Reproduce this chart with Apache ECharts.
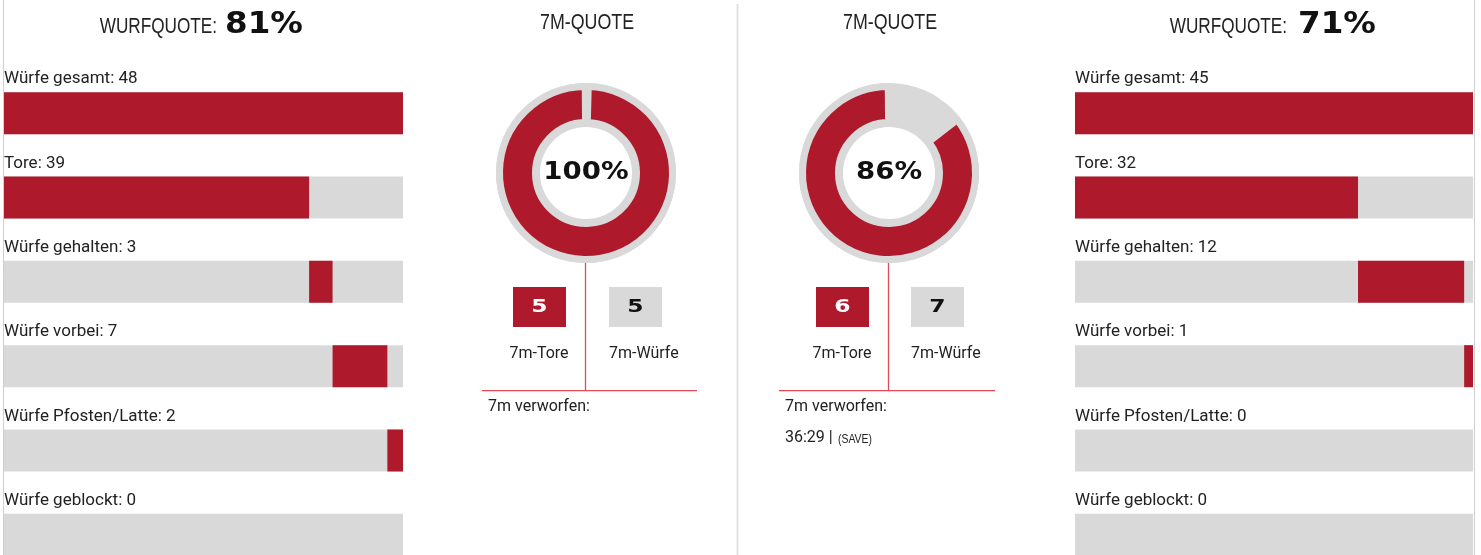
<!DOCTYPE html>
<html><head><meta charset="utf-8">
<script src="https://cdn.jsdelivr.net/npm/echarts@6/dist/echarts.min.js"></script>
<style>html,body{margin:0;padding:0;background:#fff;overflow:hidden;width:1481px;height:555px}#c{width:1481px;height:600px}</style>
</head><body><div id="c"></div><script>
// ---- data ----
const categories = ['Würfe gesamt', 'Tore', 'Würfe gehalten', 'Würfe vorbei', 'Würfe Pfosten/Latte', 'Würfe geblockt'];
const homeValues = [48, 39, 3, 7, 2, 0];
const awayValues = [45, 32, 12, 1, 0, 0];
const sevenMTore = [5, 6];
const sevenMWuerfe = [5, 7];
const sevenMVerworfenTime = [[], ['36:29']];
const sevenMVerworfenNote = [[], ['(SAVE)']];
const quoteTitle = 'WURFQUOTE:';
const sevenMTitle = '7M-QUOTE';
const sevenMToreLabel = '7m-Tore';
const sevenMWuerfeLabel = '7m-Würfe';
const verworfenLabel = '7m verworfen:';

// ---- style ----
const RED = '#ae1a2c';
const GRAY = '#d9d9d9';
const LINE_RED = '#e24a5a';
const TXT = '#222';
const SANS = "'Liberation Sans', Arial, sans-serif";
const LABEL_FONT = "Roboto, 'Liberation Sans', sans-serif";
const WIDE_BOLD = "'DejaVu Sans', sans-serif";

function build(values) {
  const parts = values.slice(1);
  const total = parts.reduce((a, b) => a + b, 0);
  const offsets = [0];
  const lengths = [total];
  let acc = 0;
  parts.forEach(v => { offsets.push(acc); lengths.push(v); acc += v; });
  return { offsets, lengths, total };
}

const sides = [
  { values: homeValues, left: 4, width: 399 },
  { values: awayValues, left: 1075, width: 398 }
];

const grid = [], xAxis = [], yAxis = [], series = [];
sides.forEach((s, i) => {
  const b = build(s.values);
  grid.push({ left: s.left, top: 71, width: s.width, height: 506, containLabel: false });
  xAxis.push({ type: 'value', gridIndex: i, min: 0, max: b.total, show: false });
  yAxis.push({ type: 'category', gridIndex: i, data: categories, inverse: true, show: false });
  series.push({
    type: 'bar', xAxisIndex: i, yAxisIndex: i, stack: 's' + i, data: b.offsets,
    barWidth: 42, silent: true, animation: false,
    itemStyle: { color: 'rgba(0,0,0,0)' },
    label: {
      show: true, position: [0, -13], align: 'left', verticalAlign: 'middle',
      fontFamily: LABEL_FONT, fontSize: 17, color: TXT,
      formatter: p => categories[p.dataIndex] + ': ' + s.values[p.dataIndex]
    }
  });
  series.push({
    type: 'bar', xAxisIndex: i, yAxisIndex: i, stack: 's' + i, data: b.lengths,
    barWidth: 42, silent: true, animation: false,
    itemStyle: { color: RED },
    showBackground: true, backgroundStyle: { color: GRAY }
  });
});

const donutCenters = [[586, 173], [889, 173]];
donutCenters.forEach((c, i) => {
  series.push({
    type: 'pie', center: c, radius: [46, 90], silent: true, animation: false,
    data: [{ value: sevenMWuerfe[i] }], itemStyle: { color: GRAY },
    label: { show: false }, labelLine: { show: false }, z: 1
  });
  series.push({
    type: 'pie', center: c, radius: [50.5, 86.5], startAngle: 90, clockwise: true,
    padAngle: 1, silent: true, animation: false,
    data: [
      { value: sevenMWuerfe[i] - sevenMTore[i], itemStyle: { color: 'rgba(0,0,0,0)', borderWidth: 0 } },
      { value: sevenMTore[i], itemStyle: { color: RED, borderColor: GRAY, borderWidth: 7 } }
    ],
    label: { show: false }, labelLine: { show: false }, z: 2
  });
});

// ---- graphics (text & rules) ----
const g = [];
const line = (x1, y1, x2, y2, color, w) => g.push({ type: 'line', shape: { x1, y1, x2, y2 }, style: { stroke: color, lineWidth: w }, silent: true });
const text = (x, y, t, o) => g.push({ type: 'text', x, y, silent: true, scaleX: o.scaleX || 1,
  style: { text: t, fill: o.color || TXT, font: o.font, textAlign: o.align || 'left', textVerticalAlign: 'middle' } });

line(3.5, 0, 3.5, 555, '#cfcfcf', 1);
line(1474.5, 0, 1474.5, 555, '#cfcfcf', 1);
line(737.5, 4, 737.5, 555, '#e2e2e2', 2);

// Wurfquote titles
const quotes = [homeValues, awayValues].map(v => Math.round(v[1] / v[0] * 100) + '%');
[[217, 225], [1287, 1298]].forEach((p, i) => {
  text(p[0], 27, quoteTitle, { font: '22px ' + SANS, align: 'right', scaleX: 0.78 });
  text(p[1], 25, quotes[i], { font: 'bold 31px ' + WIDE_BOLD, color: '#111', scaleX: 1.05 });
});

// 7m sections
const sq = [{ red: 513, gray: 609, vx: 585.5, hx1: 482, hx2: 697 }, { red: 816, gray: 911, vx: 888.5, hx1: 779, hx2: 995 }];
sq.forEach((s, i) => {
  const c = donutCenters[i];
  text(c[0] + 1, 23, sevenMTitle, { font: '22px ' + SANS, align: 'center', scaleX: 0.81 });
  const pct = Math.round(sevenMTore[i] / sevenMWuerfe[i] * 100) + '%';
  text(c[0], c[1], pct, { font: 'bold 24px ' + WIDE_BOLD, color: '#111', align: 'center', scaleX: 1.15 });
  g.push({ type: 'rect', shape: { x: s.red, y: 287, width: 53, height: 40 }, style: { fill: RED }, silent: true });
  g.push({ type: 'rect', shape: { x: s.gray, y: 287, width: 53, height: 40 }, style: { fill: GRAY }, silent: true });
  text(s.red + 26.5, 307, String(sevenMTore[i]), { font: 'bold 18px ' + WIDE_BOLD, color: '#fff', align: 'center', scaleX: 1.3 });
  text(s.gray + 26.5, 307, String(sevenMWuerfe[i]), { font: 'bold 18px ' + WIDE_BOLD, color: '#111', align: 'center', scaleX: 1.3 });
  text(s.red + 26, 354, sevenMToreLabel, { font: '16px ' + LABEL_FONT, align: 'center' });
  text(s.gray, 354, sevenMWuerfeLabel, { font: '16px ' + LABEL_FONT });
  line(s.vx, 263, s.vx, 391, LINE_RED, 1.3);
  line(s.hx1, 390.7, s.hx2, 390.7, LINE_RED, 1.3);
  text(s.hx1 + 6, 407, verworfenLabel, { font: '16px ' + LABEL_FONT });
  sevenMVerworfenTime[i].forEach((t, k) => {
    text(s.hx1 + 6, 438 + k * 30, t + ' |', { font: '16px ' + LABEL_FONT });
    text(s.hx1 + 59, 439 + k * 30, sevenMVerworfenNote[i][k], { font: '13px ' + SANS, scaleX: 0.8 });
  });
});

const chart = echarts.init(document.getElementById('c'), null, { renderer: 'canvas' });
chart.setOption({ animation: false, grid, xAxis, yAxis, series, graphic: g });
</script></body></html>
